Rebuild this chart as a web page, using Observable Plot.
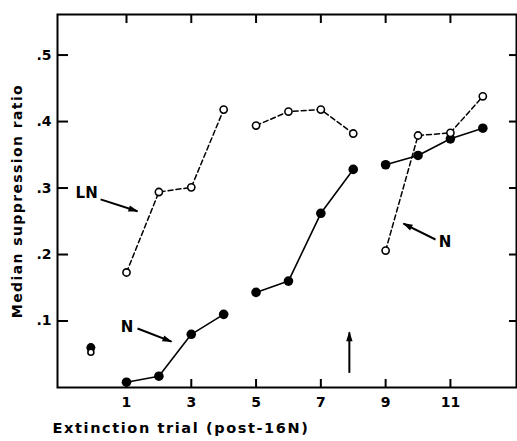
<!DOCTYPE html>
<html>
<head>
<meta charset="utf-8">
<script src="https://cdn.jsdelivr.net/npm/d3@7"></script>
<script src="https://cdn.jsdelivr.net/npm/@observablehq/plot@0.6"></script>
<style>
  html, body { margin: 0; padding: 0; background: #fff; }
  svg { display: block; }
</style>
</head>
<body>
<div id="chart"></div>
<script>
// Trials
const trials = [1, 2, 3, 4, 5, 6, 7, 8, 9, 10, 11, 12];
// Closed circles, solid line (N group)
const closedValues = [0.008, 0.017, 0.080, 0.110, 0.143, 0.160, 0.262, 0.328, 0.335, 0.349, 0.374, 0.390];
// Open circles, dashed line (LN group, then N)
const openValues = [0.173, 0.294, 0.301, 0.418, 0.394, 0.415, 0.418, 0.382, 0.206, 0.379, 0.383, 0.438];
// Segment membership (blocks of trials)
const segments = ["a", "a", "a", "a", "b", "b", "b", "b", "c", "c", "c", "c"];
// Pre-extinction points (trial 0)
const preTrial = [-0.1];
const preClosed = [0.060];
const preOpen = [0.053];

const xTicks = [1, 3, 5, 7, 9, 11];
const yTicks = [0.1, 0.2, 0.3, 0.4, 0.5];
const yTickLabels = [".1", ".2", ".3", ".4", ".5"];

const xTitle = "Extinction trial (post-16N)";
const yTitle = "Median suppression ratio";

// Annotations (data coordinates)
const labelText = ["LN", "N", "N"];
const labelX = [-0.23, 1.02, 10.83];
const labelY = [0.292, 0.090, 0.218];
const arrowX1 = [0.20, 1.34, 10.54, 7.88];
const arrowY1 = [0.283, 0.0887, 0.2226, 0.022];
const arrowX2 = [1.34, 2.39, 9.55, 7.88];
const arrowY2 = [0.265, 0.069, 0.2466, 0.083];

const closed = trials.map((t, i) => ({trial: t, value: closedValues[i], seg: segments[i]}));
const open = trials.map((t, i) => ({trial: t, value: openValues[i], seg: segments[i]}));
const pre = preTrial.map((t, i) => ({trial: t, closed: preClosed[i], open: preOpen[i]}));
const labels = labelText.map((s, i) => ({text: s, x: labelX[i], y: labelY[i]}));
const arrows = arrowX1.map((x, i) => ({x1: x, y1: arrowY1[i], x2: arrowX2[i], y2: arrowY2[i]}));

const font = "'DejaVu Sans', sans-serif";

// Filled triangular arrowhead marker
function filledHead(color, context) {
  const ns = "http://www.w3.org/2000/svg";
  const doc = (context && context.document) || document;
  const m = doc.createElementNS(ns, "marker");
  m.setAttribute("viewBox", "-10 -5 11 10");
  m.setAttribute("markerWidth", 11);
  m.setAttribute("markerHeight", 10);
  m.setAttribute("markerUnits", "userSpaceOnUse");
  m.setAttribute("orient", "auto");
  m.setAttribute("refX", 0);
  m.setAttribute("refY", 0);
  const p = doc.createElementNS(ns, "path");
  p.setAttribute("d", "M1,0L-9,-3.2L-9,3.2Z");
  p.setAttribute("fill", color);
  p.setAttribute("stroke", "none");
  m.appendChild(p);
  return m;
}

const chart = Plot.plot({
  width: 517,
  height: 441,
  marginLeft: 57,
  marginRight: 1,
  marginTop: 14,
  marginBottom: 54,
  style: {fontFamily: font, fontWeight: "bold", fontSize: "13px", background: "#fff", color: "#000"},
  x: {domain: [-1.13, 13.04]},
  y: {domain: [0, 0.561]},
  marks: [
    Plot.frame({stroke: "#000", strokeWidth: 2}),
    Plot.axisX(xTicks, {anchor: "bottom", tickSize: -8, tickPadding: 18, strokeWidth: 2, label: null, fontSize: 14, fontWeight: "bold"}),
    Plot.axisX(xTicks, {anchor: "top", tickSize: -8, tickFormat: () => "", strokeWidth: 2, label: null}),
    Plot.axisY(yTicks, {anchor: "left", tickSize: -11, tickPadding: 17, strokeWidth: 2, tickFormat: (d) => yTickLabels[yTicks.indexOf(d)], label: null, fontSize: 14, fontWeight: "bold"}),
    Plot.axisY(yTicks, {anchor: "right", tickSize: -8, tickFormat: () => "", strokeWidth: 2, label: null}),
    Plot.text([yTitle], {frameAnchor: "left", textAnchor: "middle", dx: -40, rotate: -90, fontSize: 14, fontWeight: "bold", text: d => d}),
    Plot.text([xTitle], {frameAnchor: "bottom", dy: 45, dx: -106, fontSize: 14.5, fontWeight: "bold", text: d => d}),
    Plot.line(open, {x: "trial", y: "value", z: "seg", stroke: "#000", strokeWidth: 1.5, strokeDasharray: "5,3"}),
    Plot.line(closed, {x: "trial", y: "value", z: "seg", stroke: "#000", strokeWidth: 1.6}),
    Plot.dot(closed, {x: "trial", y: "value", r: 4.8, fill: "#000", stroke: "none"}),
    Plot.dot(open, {x: "trial", y: "value", r: 3.6, fill: "#fff", stroke: "#000", strokeWidth: 1.6}),
    Plot.dot(pre, {x: "trial", y: "closed", r: 4.5, fill: "#000", stroke: "none"}),
    Plot.dot(pre, {x: "trial", y: "open", r: 3, fill: "#fff", stroke: "#000", strokeWidth: 1.6}),
    Plot.link(arrows, {x1: "x1", y1: "y1", x2: "x2", y2: "y2", stroke: "#000", strokeWidth: 2, markerEnd: filledHead}),
    Plot.text(labels, {x: "x", y: "y", text: "text", fontSize: 15, fontWeight: "bold"})
  ]
});

// widen the titles' letter spacing to match the reference typeface
d3.select(chart).selectAll("text")
  .filter(function () { return this.textContent === xTitle; })
  .style("letter-spacing", "1.6px");
d3.select(chart).selectAll("text")
  .filter(function () { return this.textContent === yTitle; })
  .style("letter-spacing", "1.4px");

document.getElementById("chart").appendChild(chart);
</script>
</body>
</html>
